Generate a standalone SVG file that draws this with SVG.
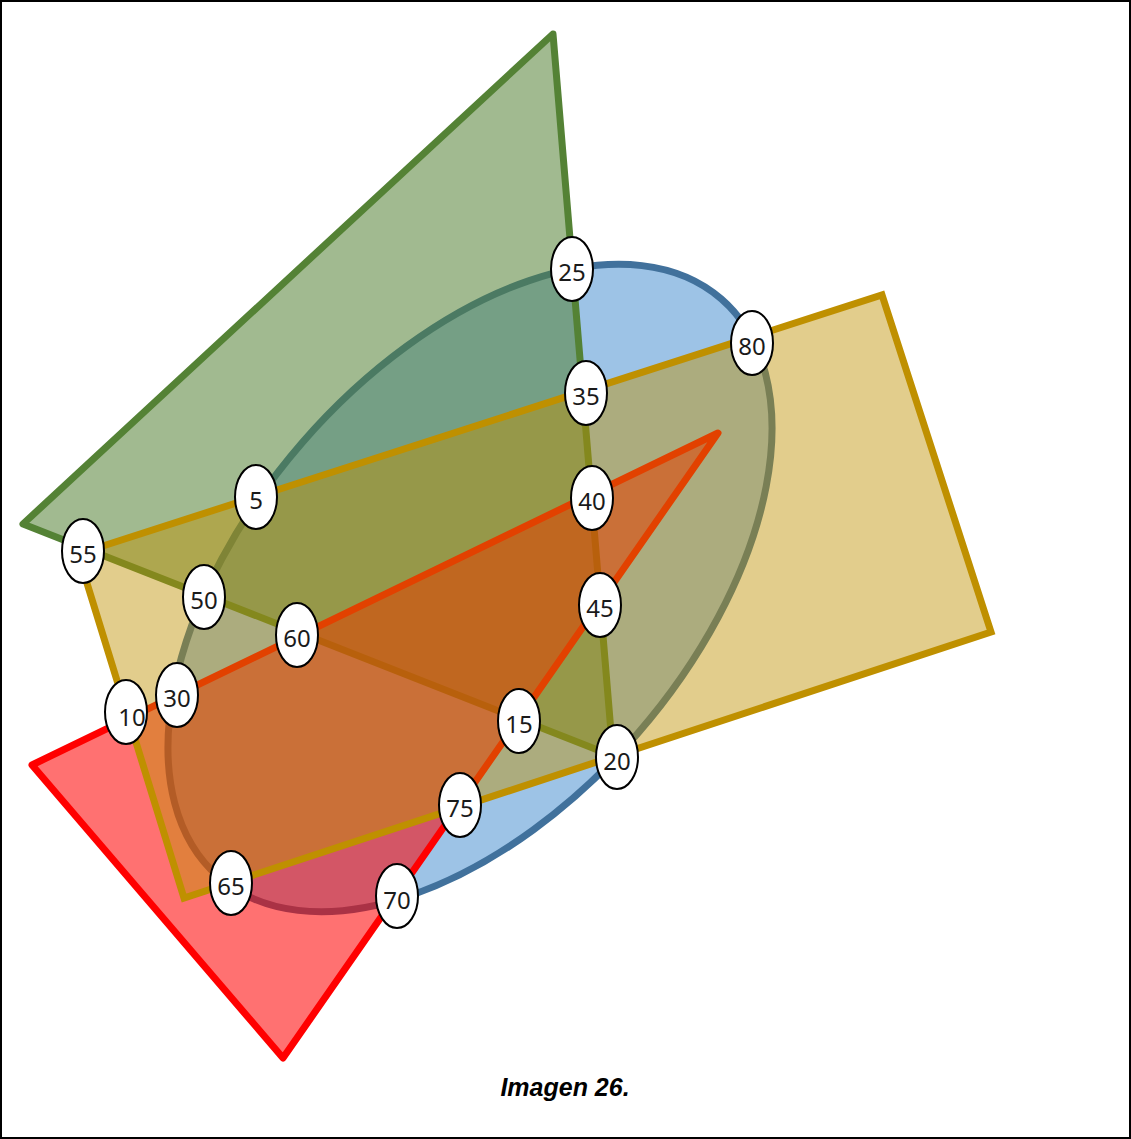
<svg xmlns="http://www.w3.org/2000/svg" width="1131" height="1139" viewBox="0 0 1131 1139">
<style>
.lbl ellipse{fill:#fff;stroke:#000;stroke-width:2}
.lbl text{font-family:"Noto Sans","Open Sans",sans-serif;font-size:24px;fill:#1a1a1a;text-anchor:middle;dominant-baseline:central}
.cap{font-family:"Liberation Sans",Arial,sans-serif;font-size:25px;font-weight:bold;font-style:italic;text-anchor:middle}
</style>
<rect x="0" y="0" width="1131" height="1139" fill="#fff"/>
<g id="shapes">
<g id="ellipse"><ellipse cx="470" cy="588" rx="383" ry="222" transform="rotate(-49 470 588)" fill="#9dc3e6" stroke="#41719c" stroke-width="7"/></g>
<g id="green-triangle"><polygon points="553,34 23,524 613,756" fill="#548235" fill-opacity="0.55" stroke="#548235" stroke-width="7" stroke-linejoin="round"/></g>
<g id="red-triangle"><polygon points="718,433 32,765 283,1058" fill="#ff0000" fill-opacity="0.556" stroke="#ff0000" stroke-width="7" stroke-linejoin="round"/></g>
<g id="gold-rect"><polygon points="78,554 882,295 991,632 184,898" fill="#bf9000" fill-opacity="0.45" stroke="#bf9000" stroke-width="7"/></g>
</g>
<g id="labels">
<g id="n25" class="lbl"><ellipse cx="572" cy="269" rx="21" ry="32"/><text x="572" y="271">25</text></g>
<g id="n80" class="lbl"><ellipse cx="752" cy="343" rx="21" ry="32"/><text x="752" y="345">80</text></g>
<g id="n35" class="lbl"><ellipse cx="586" cy="393" rx="21" ry="32"/><text x="586" y="395">35</text></g>
<g id="n5" class="lbl"><ellipse cx="256" cy="497" rx="21" ry="32"/><text x="256" y="499">5</text></g>
<g id="n40" class="lbl"><ellipse cx="592" cy="498" rx="21" ry="32"/><text x="592" y="500">40</text></g>
<g id="n55" class="lbl"><ellipse cx="83" cy="551" rx="21" ry="32"/><text x="83" y="553">55</text></g>
<g id="n50" class="lbl"><ellipse cx="204" cy="597" rx="21" ry="32"/><text x="204" y="599">50</text></g>
<g id="n45" class="lbl"><ellipse cx="600" cy="605" rx="21" ry="32"/><text x="600" y="607">45</text></g>
<g id="n60" class="lbl"><ellipse cx="297" cy="635" rx="21" ry="32"/><text x="297" y="637">60</text></g>
<g id="n30" class="lbl"><ellipse cx="177" cy="695" rx="21" ry="32"/><text x="177" y="697">30</text></g>
<g id="n10" class="lbl"><ellipse cx="126" cy="712" rx="21" ry="32"/><text x="132" y="716">10</text></g>
<g id="n15" class="lbl"><ellipse cx="519" cy="721" rx="21" ry="32"/><text x="519" y="723">15</text></g>
<g id="n20" class="lbl"><ellipse cx="617" cy="757" rx="21" ry="32"/><text x="617" y="760">20</text></g>
<g id="n75" class="lbl"><ellipse cx="460" cy="805" rx="21" ry="32"/><text x="460" y="807">75</text></g>
<g id="n65" class="lbl"><ellipse cx="231" cy="883" rx="21" ry="32"/><text x="231" y="885">65</text></g>
<g id="n70" class="lbl"><ellipse cx="397" cy="896" rx="21" ry="32"/><text x="397" y="899">70</text></g>
</g>
<text class="cap" x="565" y="1096">Imagen 26.</text>
<rect x="1" y="1" width="1129" height="1137" fill="none" stroke="#000" stroke-width="2"/>
</svg>
